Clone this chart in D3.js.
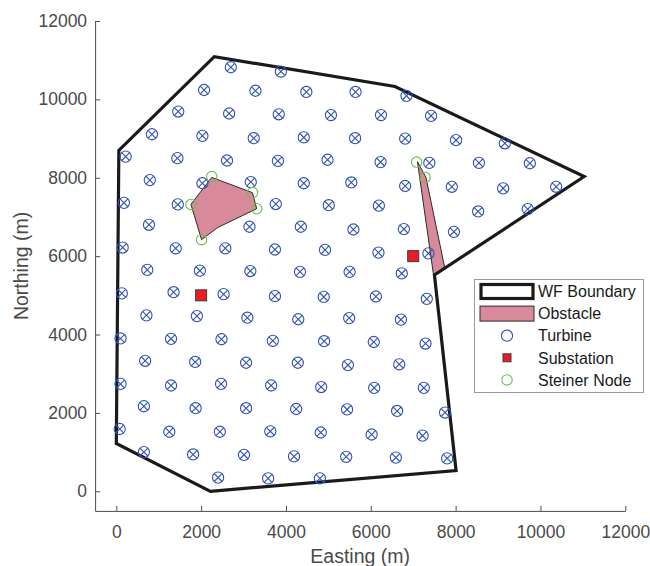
<!DOCTYPE html>
<html>
<head>
<meta charset="utf-8">
<script src="https://cdn.jsdelivr.net/npm/d3@7"></script>
<style>
  body { margin: 0; background: #fff; }
  svg text { font-family: "Liberation Sans", Arial, Helvetica, sans-serif; }
</style>
</head>
<body>
<div id="chart"></div>
<script>
// wind farm layout (metres)
var xTicks = [0, 2000, 4000, 6000, 8000, 10000, 12000];
var yTicks = [0, 2000, 4000, 6000, 8000, 10000, 12000];

var boundary = [[0,1220],[60,8700],[2310,11090],[6570,10330],[11030,8030],
                [7500,5520],[8010,530],[2220,0]];

var obstacleA = [[2250,8010],[3210,7620],[3310,7210],[2390,6730],[2010,6420],[1760,7320]];
var obstacleB = [[7100,8410],[7300,8010],[7740,5720],[7480,5510]];

var substations = [[2000,5000],[7000,6000]];

var steiner = [[2250,8030],[3210,7620],[3310,7210],[2010,6420],[1760,7320],
               [7080,8400],[7280,8010]];

var turbines = [
  [2700,10820],[3880,10710],[2070,10240],[3280,10220],[4480,10190],[1460,9690],[2660,9640],
  [3830,9620],[5060,9600],[840,9110],[2030,9070],[3240,9010],[4420,9030],[5630,9010],
  [220,8540],[1440,8500],[2610,8440],[3810,8430],[4980,8460],[790,7940],[2030,7860],
  [3170,7890],[4420,7860],[5540,7880],[180,7360],[1450,7320],[3760,7330],[5010,7300],
  [770,6800],[3140,6750],[4350,6750],[5590,6680],[150,6220],[1400,6200],[2570,6200],
  [3740,6170],[4920,6160],[730,5650],[1970,5630],[3160,5620],[4330,5600],[5500,5600],
  [5640,10190],[6840,10090],[6240,9600],[7420,9580],[6810,9000],[8010,8960],[9160,8880],
  [6230,8400],[7380,8380],[8550,8380],[9750,8370],[6810,7790],[7910,7770],[9120,7730],
  [10370,7770],[6190,7290],[8530,7140],[9700,7200],[6780,6690],[7960,6620],[6180,6090],
  [7360,6070],[6730,5560],
  [130,5050],[1350,5080],[2530,5030],[3740,4980],[4890,4960],[710,4490],[1900,4470],
  [3090,4430],[4290,4390],[5490,4420],[100,3900],[1290,3890],[2480,3880],[3690,3840],
  [4900,3830],[680,3330],[1860,3300],[3060,3280],[4280,3280],[5460,3220],[100,2740],
  [1290,2700],[2470,2740],[3650,2700],[4830,2660],[650,2170],[1870,2120],[3060,2120],
  [4240,2100],[5440,2090],[80,1590],[1250,1520],[2440,1520],[3630,1530],[4820,1500],
  [650,1000],[1810,940],[3010,930],[4190,890],[5420,880],[2400,350],[3580,330],[4800,330],
  [6120,4970],[7320,4910],[6710,4380],[6070,3810],[7290,3770],[6670,3240],[6080,2640],
  [7250,2640],[6620,2050],[7750,2010],[6020,1450],[7220,1420],[6590,860],[7800,840]
];

var legendLabels = ["WF Boundary", "Obstacle", "Turbine", "Substation", "Steiner Node"];

var width = 650, height = 566;
var axisColor = "#4a4a4a";
var blue = "#3152b4", red = "#ec1c24", green = "#63c34a", pink = "#d88a9b";

var x = d3.scaleLinear().domain([-500, 12000]).range([95.1, 625.3]);
var y = d3.scaleLinear().domain([-500, 12000]).range([510.9, 21]);

var svg = d3.select("#chart").append("svg")
    .attr("width", width)
    .attr("height", height);

var line = d3.line()
    .x(function(d) { return x(d[0]); })
    .y(function(d) { return y(d[1]); });

// obstacles
svg.selectAll(".obstacle")
    .data([obstacleA, obstacleB])
    .enter().append("path")
    .attr("class", "obstacle")
    .attr("d", function(d) { return line(d) + "Z"; })
    .attr("fill", pink)
    .attr("stroke", "#2b2b2b")
    .attr("stroke-width", 1);

// boundary
svg.append("path")
    .datum(boundary)
    .attr("d", function(d) { return line(d) + "Z"; })
    .attr("fill", "none")
    .attr("stroke", "#1a1a1a")
    .attr("stroke-width", 3.2)
    .attr("stroke-linejoin", "miter");

// turbines: circle + x
var t = svg.selectAll(".turbine")
    .data(turbines)
    .enter().append("g")
    .attr("class", "turbine")
    .attr("transform", function(d) { return "translate(" + x(d[0]) + "," + y(d[1]) + ")"; })
    .attr("stroke", blue)
    .attr("stroke-width", 1.1)
    .attr("fill", "none");
t.append("circle").attr("r", 5.6);
t.append("path").attr("d", "M-3.9,-3.9L3.9,3.9M-3.9,3.9L3.9,-3.9");

// substations
svg.selectAll(".substation")
    .data(substations)
    .enter().append("rect")
    .attr("class", "substation")
    .attr("x", function(d) { return x(d[0]) - 5.5; })
    .attr("y", function(d) { return y(d[1]) - 5.5; })
    .attr("width", 11)
    .attr("height", 11)
    .attr("fill", red)
    .attr("stroke", "#3a3a3a")
    .attr("stroke-width", 1);

// steiner nodes
svg.selectAll(".steiner")
    .data(steiner)
    .enter().append("circle")
    .attr("class", "steiner")
    .attr("cx", function(d) { return x(d[0]); })
    .attr("cy", function(d) { return y(d[1]); })
    .attr("r", 5.2)
    .attr("fill", "none")
    .attr("stroke", green)
    .attr("stroke-width", 1.1);

// axes (matlab style, ticks inward)
var xAxis = d3.axisBottom(x).tickValues(xTicks).tickSizeInner(-5).tickSizeOuter(0).tickPadding(15)
    .tickFormat(d3.format("d"));
var yAxis = d3.axisLeft(y).tickValues(yTicks).tickSizeInner(-5).tickSizeOuter(0).tickPadding(8)
    .tickFormat(d3.format("d"));

var gx = svg.append("g")
    .attr("transform", "translate(0," + y(-500) + ")")
    .call(xAxis);
var gy = svg.append("g")
    .attr("transform", "translate(" + x(-500) + ",0)")
    .call(yAxis);

[gx, gy].forEach(function(g) {
    g.select(".domain").attr("stroke", axisColor).attr("stroke-width", 1);
    g.selectAll(".tick line").attr("stroke", axisColor);
    g.selectAll(".tick text")
        .attr("fill", axisColor)
        .style("font-size", "17.5px")
        .style("font-family", "'Liberation Sans', Arial, Helvetica, sans-serif");
});

svg.append("text")
    .attr("x", (x.range()[0] + x.range()[1]) / 2)
    .attr("y", 563)
    .attr("text-anchor", "middle")
    .attr("fill", axisColor)
    .style("font-size", "19.5px")
    .text("Easting (m)");

svg.append("text")
    .attr("transform", "translate(28," + (y.range()[0] + y.range()[1]) / 2 + ") rotate(-90)")
    .attr("text-anchor", "middle")
    .attr("fill", axisColor)
    .style("font-size", "19.5px")
    .text("Northing (m)");

// legend
var lg = svg.append("g").attr("class", "legend");
lg.append("rect")
    .attr("x", 474.5).attr("y", 279.5)
    .attr("width", 169).attr("height", 113)
    .attr("fill", "#fff")
    .attr("stroke", "#9a9a9a")
    .attr("stroke-width", 1);

var rowY = d3.range(legendLabels.length).map(function(i) { return 291.5 + i * 22.1; });

lg.append("rect")
    .attr("x", 481).attr("y", rowY[0] - 7)
    .attr("width", 52).attr("height", 14)
    .attr("fill", "#fff").attr("stroke", "#1a1a1a").attr("stroke-width", 3.2);
lg.append("rect")
    .attr("x", 480).attr("y", rowY[1] - 7.5)
    .attr("width", 54).attr("height", 15)
    .attr("fill", pink).attr("stroke", "#2b2b2b").attr("stroke-width", 1);
lg.append("circle")
    .attr("cx", 507).attr("cy", rowY[2]).attr("r", 5.6)
    .attr("fill", "none").attr("stroke", blue).attr("stroke-width", 1.1);
lg.append("rect")
    .attr("x", 503).attr("y", rowY[3] - 4)
    .attr("width", 8).attr("height", 8)
    .attr("fill", red).attr("stroke", "#3a3a3a").attr("stroke-width", 1);
lg.append("circle")
    .attr("cx", 507).attr("cy", rowY[4]).attr("r", 5.2)
    .attr("fill", "none").attr("stroke", green).attr("stroke-width", 1.1);

lg.selectAll(".lbl")
    .data(legendLabels)
    .enter().append("text")
    .attr("class", "lbl")
    .attr("x", 538)
    .attr("y", function(d, i) { return rowY[i]; })
    .attr("dy", "0.36em")
    .attr("fill", "#1a1a1a")
    .style("font-size", "16px")
    .text(function(d) { return d; });
</script>
</body>
</html>
